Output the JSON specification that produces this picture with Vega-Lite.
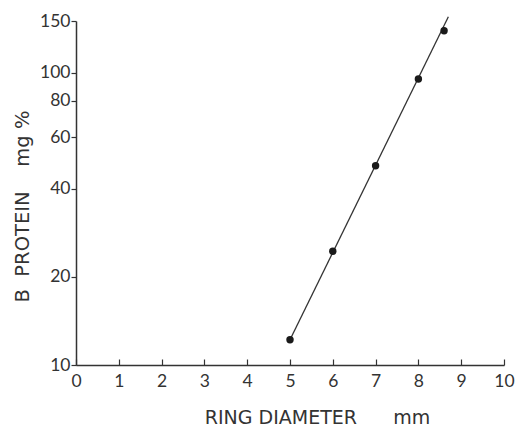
{
  "$schema": "https://vega.github.io/schema/vega-lite/v6.json",
  "width": 428,
  "height": 344,
  "autosize": {"type": "none"},
  "padding": {"left": 76, "top": 21, "right": 15, "bottom": 63},
  "background": "white",
  "config": {
    "view": {"stroke": null},
    "font": "Lato",
    "axis": {
      "domainColor": "#333",
      "domainWidth": 1.5,
      "tickColor": "#333",
      "tickWidth": 1.2,
      "labelColor": "#333",
      "titleColor": "#333",
      "labelFont": "Lato",
      "titleFont": "DejaVu Sans",
      "labelFontSize": 17.5,
      "titleFontSize": 19,
      "titleFontWeight": "normal",
      "labelFlush": false,
      "grid": false
    }
  },
  "datasets": {
    "pts": [
      {"diameter": 5, "protein": 12.2},
      {"diameter": 6, "protein": 24.5},
      {"diameter": 7, "protein": 48},
      {"diameter": 8, "protein": 95},
      {"diameter": 8.6, "protein": 139}
    ],
    "fit": [
      {"diameter": 5, "protein": 12.2},
      {"diameter": 8.7, "protein": 155}
    ]
  },
  "layer": [
    {
      "data": {"name": "fit"},
      "mark": {"type": "line", "color": "#333", "strokeWidth": 1.3, "clip": false},
      "encoding": {
        "x": {"field": "diameter", "type": "quantitative"},
        "y": {"field": "protein", "type": "quantitative"}
      }
    },
    {
      "data": {"name": "pts"},
      "mark": {"type": "circle", "color": "#1a1a1a", "opacity": 1, "size": 55},
      "encoding": {
        "x": {
          "field": "diameter",
          "type": "quantitative",
          "scale": {"domain": [0, 10], "nice": false},
          "axis": {
            "values": [0,1,2,3,4,5,6,7,8,9,10],
            "tickSize": -6,
            "labelPadding": 13,
            "title": "RING DIAMETER\u00a0\u00a0\u00a0\u00a0\u00a0\u00a0mm",
            "titleX": 241,
            "titleY": 58,
            "titleAlign": "center",
            "titleBaseline": "alphabetic"
          }
        },
        "y": {
          "field": "protein",
          "type": "quantitative",
          "scale": {"type": "log", "domain": [10, 150], "nice": false},
          "axis": {
            "values": [10, 20, 40, 60, 80, 100, 150],
            "tickSize": 5,
            "labelPadding": 1,
            "title": "B\u00a0\u00a0PROTEIN\u00a0\u00a0\u00a0\u00a0mg %",
            "titleX": -48,
            "titleY": 185,
            "titleAlign": "center",
            "titleBaseline": "alphabetic",
            "titleAngle": -90,
            "titleFontSize": 19.5
          }
        }
      }
    }
  ]
}
